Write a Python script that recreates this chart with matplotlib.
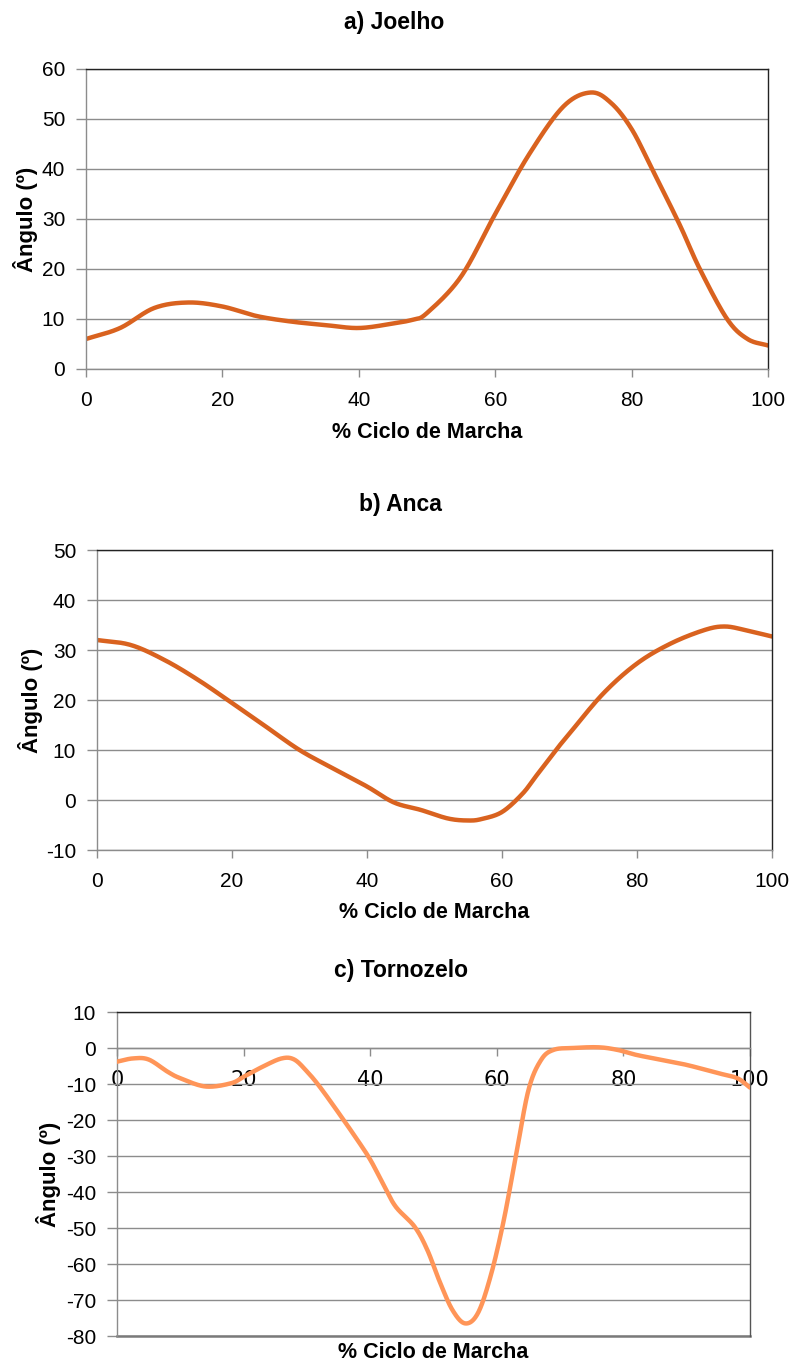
import matplotlib
matplotlib.use('Agg')
import matplotlib.pyplot as plt
import numpy as np
from matplotlib.ticker import MultipleLocator

plt.rcParams['axes.unicode_minus'] = False

# --- data (% gait cycle vs angle) ---
knee_x = [0, 5, 10, 15, 20, 25, 30, 35, 40, 45, 48, 50, 55, 60, 65, 70, 74, 77, 80, 83, 87, 90, 94, 97, 100]
knee_y = [6, 8.2, 12.2, 13.3, 12.5, 10.6, 9.5, 8.8, 8.2, 9.1, 9.9, 11.2, 18.5, 31, 43, 52.5, 55.3, 53.2, 48, 40, 29, 20, 10, 6, 4.7]

hip_x = [0, 5, 10, 15, 20, 25, 30, 35, 40, 44, 48, 52, 55, 57, 60, 63, 65, 68, 70, 75, 80, 85, 90, 93, 96, 100]
hip_y = [32, 31, 28, 24, 19.4, 14.7, 10, 6.3, 2.7, -0.5, -2, -3.7, -4.1, -3.8, -2.4, 1.2, 4.7, 10, 13.3, 21.3, 27.3, 31.3, 34, 34.7, 34, 32.7]

ankle_x = [0, 2.5, 5, 8, 10, 14, 18, 20, 23, 26, 28, 30, 32, 35, 38, 40, 42, 44, 47, 49, 51, 53, 55, 57, 59, 61, 63, 65, 67, 69, 72, 76, 79, 82, 86, 90, 95, 98, 100]
ankle_y = [-3.8, -2.9, -3.2, -6.6, -8.4, -10.7, -9.8, -8, -5.2, -2.9, -3.2, -6.5, -10.7, -18, -25.6, -31, -37.6, -44, -49.6, -56, -65, -72.8, -76.5, -73.7, -63.5, -48.7, -30.2, -11.7, -3.3, -0.5, 0, 0.2, -0.5, -1.9, -3.3, -4.7, -7, -8.4, -11]

titles = ['a) Joelho', 'b) Anca', 'c) Tornozelo']
xlabel = '% Ciclo de Marcha'
ylabel = 'Ângulo (º)'

DARK = '#D9621F'
LIGHT = '#FF9558'
GRID = '#8C8C8C'
FONT = ['Liberation Sans', 'DejaVu Sans']
W, H = 790, 1364


def smooth(x, y):
    # Catmull-Rom through the read points, like Excel's smoothed line
    x = np.asarray(x, float)
    y = np.asarray(y, float)
    px = np.concatenate(([2*x[0]-x[1]], x, [2*x[-1]-x[-2]]))
    py = np.concatenate(([2*y[0]-y[1]], y, [2*y[-1]-y[-2]]))
    xs, ys = [], []
    t = np.linspace(0, 1, 30, endpoint=False)
    for i in range(1, len(px)-2):
        for arr, out in ((px, xs), (py, ys)):
            p0, p1, p2, p3 = arr[i-1], arr[i], arr[i+1], arr[i+2]
            out.extend(0.5*((2*p1) + (-p0+p2)*t + (2*p0-5*p1+4*p2-p3)*t**2 + (-p0+3*p1-3*p2+p3)*t**3))
    xs.append(x[-1]); ys.append(y[-1])
    return np.array(xs), np.array(ys)


def make_axes(left, top, right, bottom):
    # pixel box -> figure fractions
    return fig.add_axes([left/W, 1-bottom/H, (right-left)/W, (bottom-top)/H])


def style(ax, ymin, ymax, ystep):
    ax.set_xlim(0, 100)
    ax.set_ylim(ymin, ymax)
    ax.yaxis.set_major_locator(MultipleLocator(ystep))
    ax.xaxis.set_major_locator(MultipleLocator(20))
    ax.yaxis.grid(True, color=GRID, lw=1.0)
    ax.set_axisbelow(True)
    for s in ('top', 'right'):
        ax.spines[s].set_color('#222222')
        ax.spines[s].set_linewidth(1.0)
    for s in ('left', 'bottom'):
        ax.spines[s].set_color(GRID)
        ax.spines[s].set_linewidth(1.0)
    ax.tick_params(direction='out', width=1, color=GRID, labelsize=15)
    ax.tick_params(axis='y', length=7, pad=8)
    ax.tick_params(axis='x', length=6, pad=10)
    for lab in ax.get_xticklabels() + ax.get_yticklabels():
        lab.set_family(FONT)


def labels(ax, title, tx, ty, ylab_x, xlab_y):
    ax.set_xlabel(xlabel, fontsize=15.5, fontweight='bold', family=FONT, va='top')
    ax.xaxis.set_label_coords(0.5, xlab_y)
    ax.set_ylabel(ylabel, fontsize=16, fontweight='bold', family=FONT)
    ax.yaxis.set_label_coords(ylab_x, 0.5)
    fig.text(tx/W, 1-ty/H, title, fontsize=16.5, fontweight='bold', family=FONT, ha='center', va='center')


fig = plt.figure(figsize=(7.9, 13.64), dpi=100)

# a) knee
ax1 = make_axes(86, 69, 768, 369)
style(ax1, 0, 60, 10)
sx, sy = smooth(knee_x, knee_y)
ax1.plot(sx, sy, color=DARK, lw=3.2, solid_capstyle='round')
labels(ax1, titles[0], 394, 22, -0.07, -0.175)

# b) hip
ax2 = make_axes(97, 550, 772, 850)
style(ax2, -10, 50, 10)
sx, sy = smooth(hip_x, hip_y)
ax2.plot(sx, sy, color=DARK, lw=3.2, solid_capstyle='round')
labels(ax2, titles[1], 400, 505, -0.08, -0.172)

# c) ankle, x axis crosses at 0
ax3 = make_axes(117, 1012, 750, 1336)
style(ax3, -80, 10, 10)
ax3.spines['bottom'].set_position(('data', 0))
ax3.spines['right'].set_color('#555555')
ax3.axhline(-80, color='#7A7A7A', lw=1.8, clip_on=False, zorder=2)
sx, sy = smooth(ankle_x, ankle_y)
ax3.plot(sx, sy, color=LIGHT, lw=3.2, solid_capstyle='round', zorder=3)
labels(ax3, titles[2], 401, 971, -0.088, -0.02)

fig.savefig('out.png', dpi=100)
